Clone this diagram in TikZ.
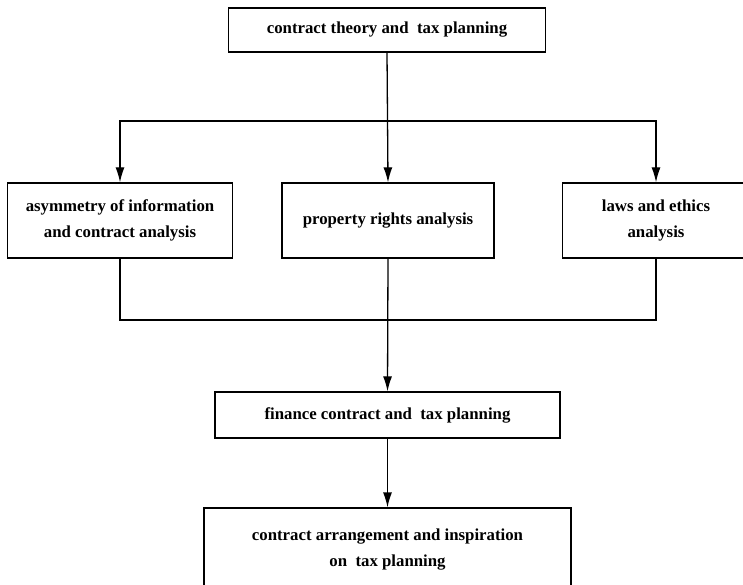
\documentclass[tikz,border=0pt]{standalone}
\usepackage{fontspec}
\setmainfont{Liberation Serif}
\usetikzlibrary{arrows.meta}
\begin{document}
\begin{tikzpicture}[x=1pt,y=1pt,
  box/.style={draw, line width=1.3pt, inner sep=0pt, align=center,
    font=\fontsize{16.8}{26}\selectfont\bfseries},
  conn/.style={line width=1.3pt},
  arr/.style={conn, -{Latex[length=15pt,width=9pt]}}]
\useasboundingbox (0,0) rectangle (743,-585);
\clip (0,0) rectangle (743,-585);
\node[box, minimum width=317pt, minimum height=44pt] (top) at (387,-30) {contract theory and~ tax planning};
\node[box, minimum width=225pt, minimum height=75pt] (left) at (120,-220.5) {asymmetry of information\\and contract analysis};
\node[box, minimum width=212pt, minimum height=75pt] (mid) at (388,-220.5) {property rights analysis};
\node[box, minimum width=187pt, minimum height=75pt] (right) at (656,-220.5) {laws and ethics\\analysis};
\node[box, minimum width=345pt, minimum height=46pt] (fin) at (387.5,-415) {finance contract and~ tax planning};
\node[box, minimum width=367pt, minimum height=84pt] (bot) at (387.5,-550) {contract arrangement and inspiration\\on~ tax planning};
\coordinate (b1) at (0,-121);
\coordinate (b2) at (0,-320);
\draw[arr] (top.south) -- (mid.north);
\draw[arr] (top.south |- b1) -| (left.north);
\draw[arr] (top.south |- b1) -| (right.north);
\draw[conn] (left.south) |- (fin.north |- b2);
\draw[conn] (right.south) |- (fin.north |- b2);
\draw[arr] (mid.south) -- (fin.north);
\draw[arr] (fin.south) -- (bot.north);
\end{tikzpicture}
\end{document}
